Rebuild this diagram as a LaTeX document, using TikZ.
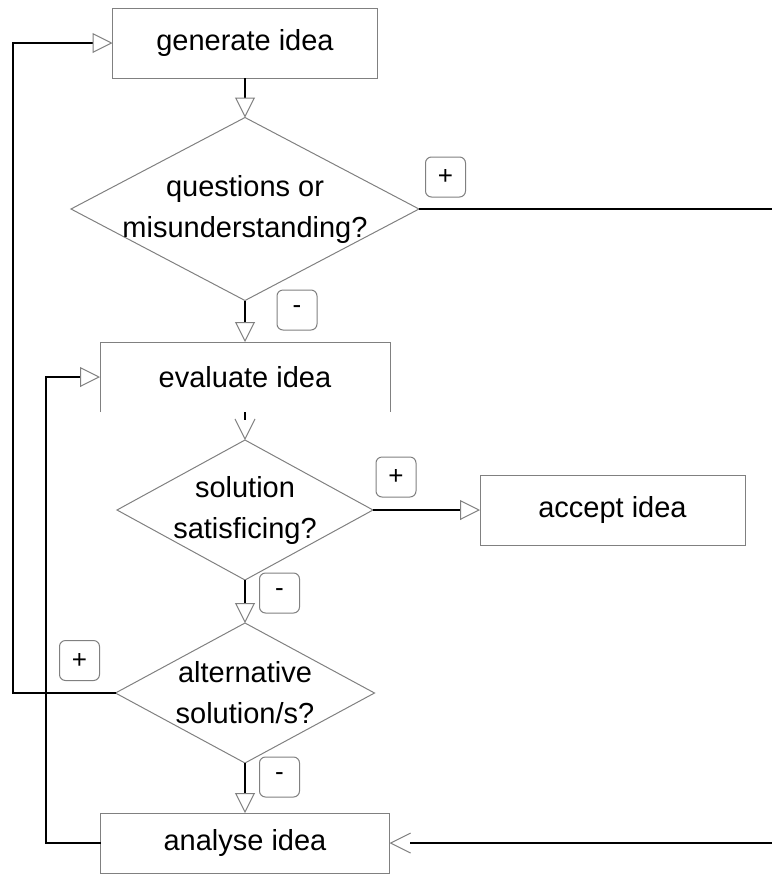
\documentclass[tikz,border=0pt]{standalone}
\usepackage{fontspec}
\setmainfont{Liberation Sans}
\usetikzlibrary{arrows.meta,shapes.geometric,decorations.markings}
\definecolor{boxgray}{RGB}{128,128,128}

\begin{document}
\begin{tikzpicture}[x=0.5pt, y=-0.5pt,
  every node/.style={outer sep=0pt},
  stepbox/.style={rectangle, draw=boxgray, line width=0.5pt, minimum width=132.5pt, minimum height=35pt, font=\fontsize{14.5}{20}\selectfont},
  decision/.style={diamond, draw=boxgray, line width=0.5pt, inner sep=0pt},
  qtext/.style={align=center, font=\fontsize{14.5}{20.5}\selectfont},
  sign/.style={rectangle, rounded corners=3pt, draw=boxgray, line width=0.5pt, minimum size=20pt, inner sep=0pt, font=\fontsize{13}{13}\selectfont},
  flow/.style={line width=1.3pt},
  flowto/.style={flow, -{Triangle[color=boxgray, fill=white, line width=0.5pt, length=10pt, width=10pt]}},
  flowbarb/.style={flow, shorten >=10pt, postaction={decorate, decoration={markings,
    mark=at position 1 with {\arrow{Straight Barb[color=boxgray, line width=0.5pt, length=10pt, width=10pt]}}}}}
]
\useasboundingbox (0,0) rectangle (772,874);

% Steps and decisions
\node[stepbox] (generate) at (245,43) {generate idea};
\node[decision, minimum width=174pt, minimum height=91.5pt,
  label={[qtext]center:{questions or\\misunderstanding?}}] (questions) at (245,209) {};
\node[stepbox, draw=none, minimum width=145pt] (evaluate) at (245,377) {evaluate idea};
\node[decision, minimum width=128pt, minimum height=70pt,
  label={[qtext]center:{solution\\satisficing?}}] (solution) at (245,510) {};
\node[stepbox] (accept) at (612.5,510) {accept idea};
\node[decision, minimum width=129.5pt, minimum height=70pt,
  label={[qtext]center:{alternative\\solution/s?}}] (alternative) at (245,693) {};
\node[stepbox, minimum width=144.5pt, minimum height=30pt] (analyse) at (245,843) {analyse idea};

% Open box round evaluate idea
\draw[draw=boxgray, line width=0.5pt] (evaluate.south west) |- (evaluate.north east) -- (evaluate.south east);

% Answer signs
\node[sign] (qplus) at (445.5,177) {+};
\node[sign] (qminus) at (297,310) {-};
\node[sign] (splus) at (396,477) {+};
\node[sign] (sminus) at (279.5,593) {-};
\node[sign] (aplus) at (79.5,660.5) {+};
\node[sign] (aminus) at (279.5,777) {-};

% Loop corners and open ends
\coordinate (leftA) at (13,693);
\coordinate (leftB) at (46,843);
\coordinate (rightA) at (772,209);
\coordinate (rightB) at (772,843);

% Main flow
\draw[flowto] (generate.south) -- (questions.north);
\draw[flowto] (questions.south) -- (evaluate.north);
\draw[flowbarb] (evaluate.south) -- (solution.north);
\draw[flowto] (solution.east) -- (accept.west);
\draw[flowto] (solution.south) -- (alternative.north);
\draw[flowto] (alternative.south) -- (analyse.north);

% Loops
\draw[flow] (questions.east) -- (rightA);
\draw[flowbarb] (rightB) -- (analyse.east);
\draw[flowto] (alternative.west) -- (leftA) |- (generate.west);
\draw[flowto] (analyse.west) -- (leftB) |- (evaluate.west);
\end{tikzpicture}
\end{document}
